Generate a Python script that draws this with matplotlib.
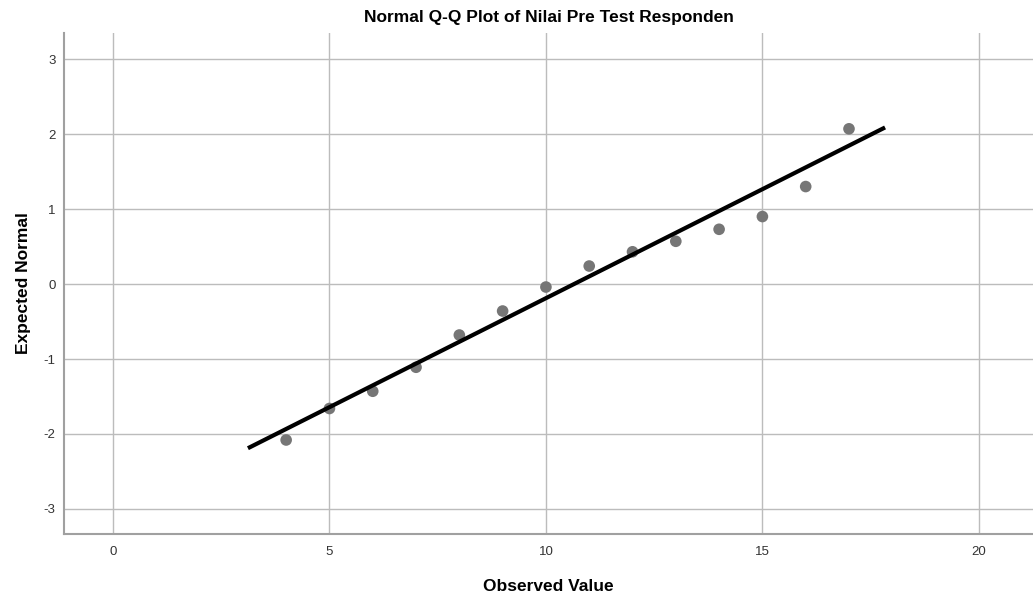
"""Normal Q-Q plot (SPSS style) of pre test scores"""

import matplotlib.pyplot as plt
import numpy as np

# data

observed = [4, 5, 6, 7, 8, 9, 10, 11, 12, 13, 14, 15, 16, 17]
expected = [-2.08, -1.66, -1.43, -1.11, -0.68, -0.36, -0.04, 0.24, 0.43, 0.57, 0.73, 0.90, 1.30, 2.07]

# reference line y = (x - mean) / sd, drawn over this x range
line_mean = 10.65
line_sd = 3.44
line_x = [3.16, 17.79]

x_ticks = [0, 5, 10, 15, 20]
y_ticks = [-3, -2, -1, 0, 1, 2, 3]

title = "Normal Q-Q Plot of Nilai Pre Test Responden"

# plotting

plt.rcParams['font.family'] = ['Liberation Sans', 'DejaVu Sans']
plt.rcParams['axes.unicode_minus'] = False

fig = plt.figure(figsize=(10.33, 5.97), dpi=100)
ax = fig.add_axes([0.062, 0.106, 0.938, 0.839])

ax.grid(True, color='#bcbcbc', linewidth=1.0)
ax.set_axisbelow(True)

ax.scatter(observed, expected, s=70, color='#767676', edgecolors='none', zorder=3)

lx = np.array(line_x)
ax.plot(lx, (lx - line_mean) / line_sd, color='black', linewidth=3, zorder=4)

ax.set_xlim(-1.13, 21.25)
ax.set_ylim(-3.33, 3.35)
ax.set_xticks(x_ticks)
ax.set_yticks(y_ticks)
ax.tick_params(length=0, labelsize=9.5, labelcolor='#333333')
ax.tick_params(axis='y', pad=6)
ax.tick_params(axis='x', pad=9)

for side in ['top', 'right']:
  ax.spines[side].set_visible(False)
for side in ['left', 'bottom']:
  ax.spines[side].set_color('#a0a0a0')
  ax.spines[side].set_linewidth(1.5)

# texts
ax.set_title(title, fontsize=12.5, fontweight='bold', pad=8)
ax.set_xlabel("Observed Value", fontsize=12.5, fontweight='bold', labelpad=15)
ax.set_ylabel("Expected Normal", fontsize=12.5, fontweight='bold', labelpad=9)

fig.savefig("out.png", dpi=100)
